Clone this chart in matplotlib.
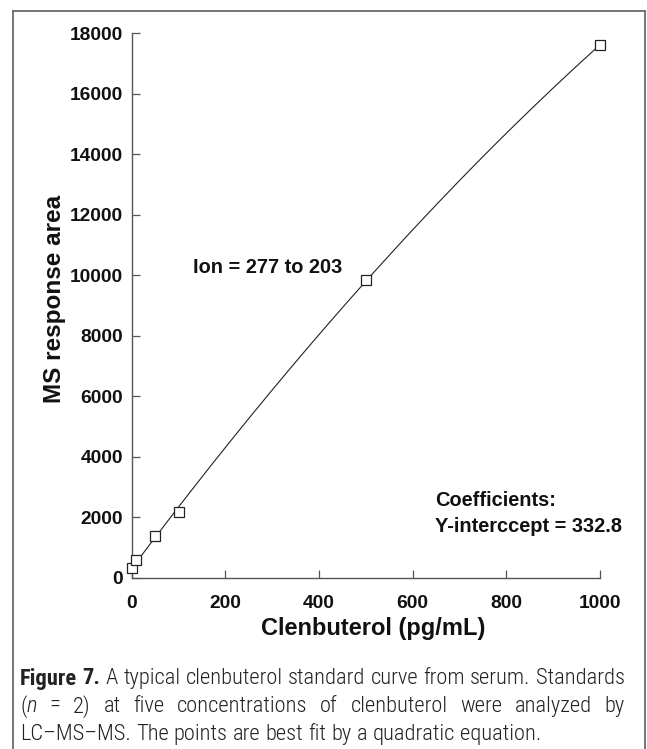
import numpy as np
import matplotlib
matplotlib.use("Agg")
import matplotlib.pyplot as plt
from matplotlib import font_manager as fm
from matplotlib.lines import Line2D

# ---- data ----
conc = [0, 10, 50, 100, 500, 1000]
resp = [320, 590, 1390, 2180, 9850, 17600]
xticks = [0, 200, 400, 600, 800, 1000]
yticks = [0, 2000, 4000, 6000, 8000, 10000, 12000, 14000, 16000, 18000]
xlabel = "Clenbuterol (pg/mL)"
ylabel = "MS response area"
ion_text = "Ion = 277 to 203"
coef_title = "Coefficients:"
coef_text = "Y-interccept = 332.8"
caption = [
    [("Figure 7.", "bold"), (" A typical clenbuterol standard curve from serum. Standards", "normal")],
    [("(", "normal"), ("n", "italic"), (" = 2) at five concentrations of clenbuterol were analyzed by", "normal")],
    [("LC–MS–MS. The points are best fit by a quadratic equation.", "normal")],
]

W, H = 647, 749
names = {f.name for f in fm.fontManager.ttflist}
main_font = "Liberation Sans" if "Liberation Sans" in names else "DejaVu Sans"
cap_font = main_font
for c in ["Liberation Sans Narrow", "DejaVu Sans Condensed", "Roboto Condensed",
          "Open Sans Condensed", "Liberation Sans", "DejaVu Sans"]:
    if c in names:
        cap_font = c
        break

plt.rcParams["font.family"] = [main_font, "DejaVu Sans"]

fig = plt.figure(figsize=(W / 100, H / 100), dpi=100)

def fx(px):
    return px / W

def fy(py):
    return 1 - py / H

# axes placement
x0, x1 = 131.7, 600.0
y0, y1 = 578.0, 33.0
ax = fig.add_axes([fx(x0), fy(y0), (x1 - x0) / W, (y0 - y1) / H])

coef = np.polyfit(conc, resp, 2)
xs = np.linspace(min(conc), max(conc), 300)
ax.plot(xs, np.polyval(coef, xs), color="#222222", lw=0.8, zorder=2, clip_on=False)
ax.plot(conc, resp, linestyle="none", marker="s", markersize=6.5,
        markerfacecolor="white", markeredgecolor="#222222", markeredgewidth=0.9,
        zorder=3, clip_on=False)

ax.set_xlim(0, 1000)
ax.set_ylim(0, 18000)
ax.set_xticks(xticks)
ax.set_yticks(yticks)
ax.set_xticklabels([str(v) for v in xticks])
ax.set_yticklabels([str(v) for v in yticks])
for s in ["top", "right"]:
    ax.spines[s].set_visible(False)
for s in ["left", "bottom"]:
    ax.spines[s].set_color("#555555")
    ax.spines[s].set_linewidth(1.0)
ax.tick_params(axis="both", direction="in", length=5.5, width=0.9, color="#555555",
               labelsize=13.8)
ax.tick_params(axis="x", pad=12)
ax.tick_params(axis="y", pad=6)
for lab in ax.get_xticklabels() + ax.get_yticklabels():
    lab.set_fontweight("bold")
    lab.set_color("#111111")

# axis titles
fig.text(fx(373), fy(628), xlabel, ha="center", va="center", fontsize=17,
         fontweight="bold", color="#111111")
fig.text(fx(55), fy(299), ylabel, ha="center", va="center", rotation=90,
         fontsize=17.5, fontweight="bold", color="#111111")

# annotations
fig.text(fx(268), fy(267.5), ion_text, ha="center", va="center", fontsize=14.4,
         fontweight="bold", color="#111111")
fig.text(fx(435), fy(501), coef_title, ha="left", va="center", fontsize=14.4,
         fontweight="bold", color="#111111")
fig.text(fx(435), fy(527), coef_text, ha="left", va="center", fontsize=14.4,
         fontweight="bold", color="#111111")

# frame around the figure (left, top, right)
fc = "#6a6a6a"
fig.add_artist(Line2D([fx(13), fx(13)], [fy(11), 0], transform=fig.transFigure, color=fc, lw=1.3))
fig.add_artist(Line2D([fx(13), fx(645)], [fy(11), fy(11)], transform=fig.transFigure, color=fc, lw=1.3))
fig.add_artist(Line2D([fx(645), fx(645)], [fy(11), 0], transform=fig.transFigure, color=fc, lw=1.3))

# caption with justification
renderer = fig.canvas.get_renderer()

def style_kw(style, size):
    kw = dict(fontsize=size, family=[cap_font, "DejaVu Sans"], color="#222222")
    if style == "bold":
        kw["fontweight"] = "bold"
    elif style == "italic":
        kw["fontstyle"] = "italic"
        kw["fontweight"] = "light"
    else:
        kw["fontweight"] = "light"
    return kw

def measure(text, style, size):
    t = fig.text(0, 0, text, **style_kw(style, size))
    w = t.get_window_extent(renderer).width
    t.remove()
    return w

def split_words(segs):
    words = [[]]
    for text, style in segs:
        parts = text.split(" ")
        for i, p in enumerate(parts):
            if i > 0:
                words.append([])
            if p:
                words[-1].append((p, style))
    return [w for w in words if w]

def space_w(size):
    return measure("a a", "normal", size) - measure("aa", "normal", size)

def natural(words, size, sp_scale=1.0):
    return (sum(measure(p, s, size) for wd in words for p, s in wd)
            + space_w(size) * sp_scale * (len(words) - 1))

cap_left = 20.0
cap_right = 625.0
last_right = 588.0
ref_size = 10.0
all_words = [split_words(c) for c in caption]
sizes = [ref_size * (last_right - cap_left) / natural(all_words[2], ref_size)]
for wds in all_words[:2]:
    sizes.append(ref_size * (cap_right - cap_left) / natural(wds, ref_size, 1.05))
cap_size = min(sizes)

line_y = [676, 704, 732]
for li, words in enumerate(all_words):
    widths = [[measure(p, s, cap_size) for p, s in wd] for wd in words]
    total = sum(sum(w) for w in widths)
    if li < len(all_words) - 1:
        gap = (cap_right - cap_left - total) / (len(words) - 1)
    else:
        gap = space_w(cap_size)
    x = cap_left
    for wd, ws in zip(words, widths):
        for (p, s), w in zip(wd, ws):
            fig.text(fx(x), fy(line_y[li]), p, ha="left", va="center_baseline",
                     **style_kw(s, cap_size))
            x += w
        x += gap

fig.savefig("out.png", dpi=100)
